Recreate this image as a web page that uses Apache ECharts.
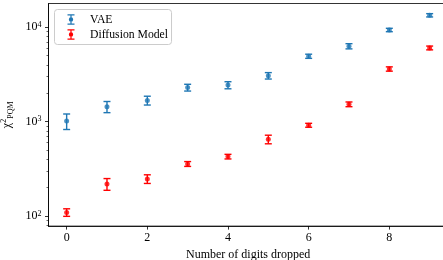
<!DOCTYPE html>
<html>
<head>
<meta charset="utf-8">
<script src="https://cdn.jsdelivr.net/npm/echarts@6/dist/echarts.min.js"></script>
<style>html,body{margin:0;padding:0;background:#fff}#c{width:443px;height:260px}</style>
</head>
<body>
<div id="c"></div>
<script>
// ---- data ----
const digitsDropped = [0, 1, 2, 3, 4, 5, 6, 7, 8, 9];
const vaeValues = [1015, 1440, 1680, 2300, 2440, 3070, 4940, 6310, 9380, 13430];
const vaeErrors = [190, 195, 180, 190, 210, 240, 250, 400, 390, 540];
const diffValues = [109, 218, 247, 356, 426, 650, 916, 1528, 3620, 6050];
const diffErrors = [10, 31, 26, 21, 24, 68, 44, 88, 190, 280];
const xTickValues = [0, 2, 4, 6, 8];
const yMajorTicks = [100, 1000, 10000];
const yMinorTicks = [80, 90, 200, 300, 400, 500, 600, 700, 800, 900,
  2000, 3000, 4000, 5000, 6000, 7000, 8000, 9000];
const seriesNames = ['VAE', 'Diffusion Model'];
const xAxisTitle = 'Number of digits dropped';

const FONT = '"Liberation Serif", "DejaVu Serif", serif';
const BLUE = '#1f77b4', RED = '#ff0000';
const ICON = 'path://M0,0h8v1.4h-8z M0,10.6h8v1.4h-8z M3.3,0h1.4v12h-1.4z M1.5,6a2.5,2.5 0 1,1 5,0a2.5,2.5 0 1,1 -5,0z';

function errData(vals, errs) {
  return digitsDropped.map((x, i) => [x, vals[i] - errs[i], vals[i] + errs[i]]);
}
function pts(vals) { return digitsDropped.map((x, i) => [x, vals[i]]); }

function errRender(color) {
  return function (params, api) {
    const x = api.value(0);
    const p1 = api.coord([x, api.value(1)]);
    const p2 = api.coord([x, api.value(2)]);
    const cw = 3.5;
    const st = { stroke: color, lineWidth: 1.4 };
    return {
      type: 'group', children: [
        { type: 'line', shape: { x1: p1[0], y1: p1[1], x2: p2[0], y2: p2[1] }, style: st },
        { type: 'line', shape: { x1: p1[0] - cw, y1: p1[1], x2: p1[0] + cw, y2: p1[1] }, style: st },
        { type: 'line', shape: { x1: p2[0] - cw, y1: p2[1], x2: p2[0] + cw, y2: p2[1] }, style: st }
      ]
    };
  };
}

const chart = echarts.init(document.getElementById('c'), null, { renderer: 'canvas' });
chart.setOption({
  animation: false,
  backgroundColor: '#fff',
  textStyle: { fontFamily: FONT },
  grid: {
    left: 48.5, top: 3.5, width: 399.3, height: 222.6,
    show: true, borderColor: '#000', borderWidth: 0.8,
    containLabel: false, outerBoundsMode: 'none'
  },
  legend: {
    orient: 'vertical', left: 54.5, top: 9.5,
    padding: [4, 3.5, 4, 13], itemGap: 3,
    itemWidth: 28, itemHeight: 10.5,
    backgroundColor: 'rgba(255,255,255,0.8)', borderColor: '#cccccc', borderWidth: 1, borderRadius: 3,
    textStyle: { fontFamily: FONT, fontSize: 11.7, color: '#000' },
    data: [{ name: seriesNames[0], icon: ICON }, { name: seriesNames[1], icon: ICON }]
  },
  xAxis: {
    type: 'value', min: -0.45, max: 9.45,
    axisLine: { show: true, onZero: false, lineStyle: { color: '#000', width: 0.8 } },
    axisTick: { show: true, length: 3.5, lineStyle: { color: '#000', width: 0.8 }, customValues: xTickValues },
    axisLabel: { customValues: xTickValues, margin: 6, fontFamily: FONT, fontSize: 12, color: '#000' },
    splitLine: { show: false },
    name: xAxisTitle, nameLocation: 'middle', nameGap: 19,
    nameTextStyle: { fontFamily: FONT, fontSize: 12, color: '#000' }
  },
  yAxis: [{
    type: 'log', logBase: 10, min: 78, max: 17900,
    axisLine: { show: true, onZero: false, lineStyle: { color: '#000', width: 0.8 } },
    axisTick: { show: true, length: 3.5, lineStyle: { color: '#000', width: 0.8 }, customValues: yMajorTicks },
    axisLabel: {
      customValues: yMajorTicks, margin: 7, fontFamily: FONT, fontSize: 12, color: '#000',
      formatter: v => '{b|10}{s|' + Math.round(Math.log10(v)) + '}',
      rich: {
        b: { fontFamily: FONT, fontSize: 12, lineHeight: 13, color: '#000' },
        s: { fontFamily: FONT, fontSize: 8, lineHeight: 9, verticalAlign: 'top', color: '#000' }
      }
    },
    splitLine: { show: false },
    name: '{c|χ}{s|2}{b|PQM}', nameLocation: 'middle', nameGap: 33, nameRotate: 90,
    nameTextStyle: {
      rich: {
        c: { fontFamily: FONT, fontSize: 12, lineHeight: 15, color: '#000' },
        s: { fontFamily: FONT, fontSize: 8, lineHeight: 9, verticalAlign: 'top', color: '#000' },
        b: { fontFamily: FONT, fontSize: 8, lineHeight: 9, verticalAlign: 'bottom', color: '#000' }
      }
    }
  }, {
    type: 'log', logBase: 10, min: 78, max: 17900, position: 'left',
    axisLine: { show: false, onZero: false },
    axisTick: { show: true, length: 2, lineStyle: { color: '#000', width: 0.6 }, customValues: yMinorTicks },
    axisLabel: { show: false },
    splitLine: { show: false }
  }],
  series: [
    { name: seriesNames[0], type: 'custom', renderItem: errRender(BLUE), data: errData(vaeValues, vaeErrors), itemStyle: { color: BLUE }, z: 2 },
    { name: seriesNames[0], type: 'scatter', data: pts(vaeValues), symbolSize: 5, itemStyle: { color: BLUE }, z: 3 },
    { name: seriesNames[1], type: 'custom', renderItem: errRender(RED), data: errData(diffValues, diffErrors), itemStyle: { color: RED }, z: 2 },
    { name: seriesNames[1], type: 'scatter', data: pts(diffValues), symbolSize: 5, itemStyle: { color: RED }, z: 3 }
  ]
});
</script>
</body>
</html>
